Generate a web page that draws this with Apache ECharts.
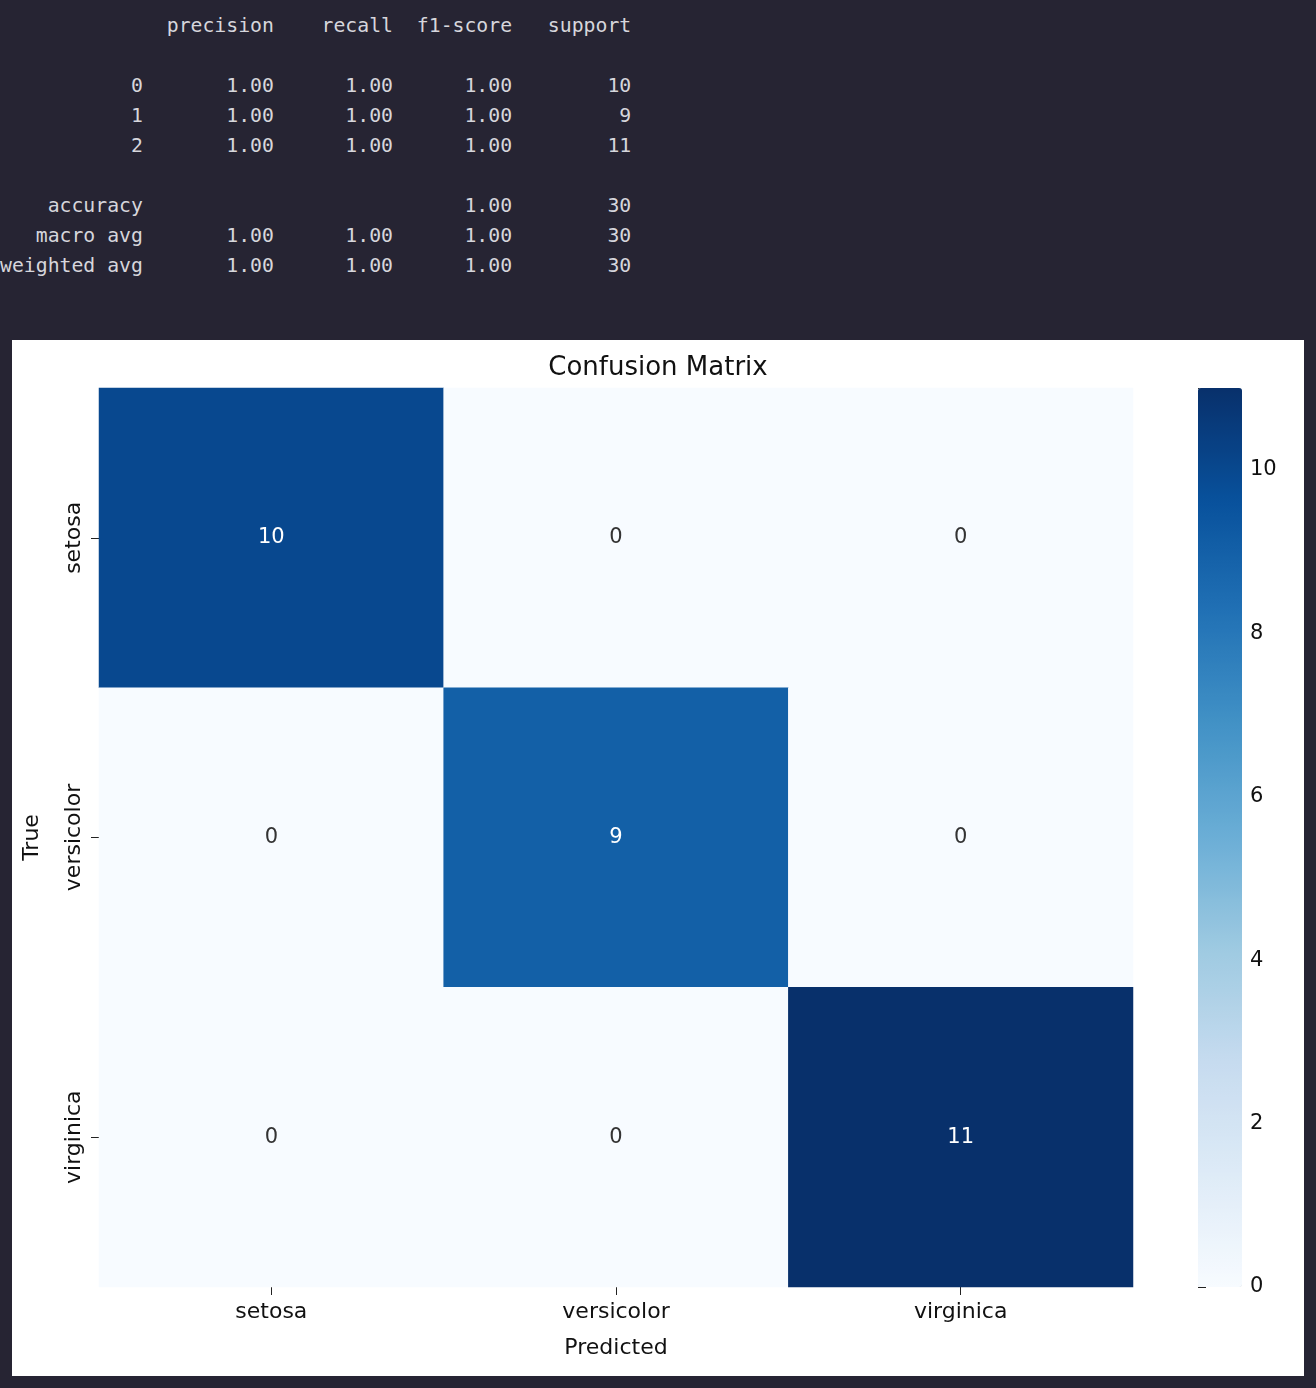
<!DOCTYPE html>
<html>
<head>
<meta charset="utf-8">
<title>Confusion Matrix</title>
<script src="https://cdn.jsdelivr.net/npm/echarts@6/dist/echarts.min.js"></script>
<style>
  body { margin: 0; background: #262433; width: 1316px; height: 1388px; overflow: hidden; }
  #report { position: absolute; left: 0; top: 11px; margin: 0; color: #d6d6dc;
            font-family: 'DejaVu Sans Mono', monospace; font-size: 19.8px; line-height: 30px; }
  #main { position: absolute; left: 12px; top: 340px; width: 1292px; height: 1036px; background: #fff; }
</style>
</head>
<body>
<pre id="report"></pre>
<div id="main"></div>
<script>
var reportLines = [
  '              precision    recall  f1-score   support',
  '',
  '           0       1.00      1.00      1.00        10',
  '           1       1.00      1.00      1.00         9',
  '           2       1.00      1.00      1.00        11',
  '',
  '    accuracy                           1.00        30',
  '   macro avg       1.00      1.00      1.00        30',
  'weighted avg       1.00      1.00      1.00        30'
];
var classes = ['setosa', 'versicolor', 'virginica'];
// matrix[row = true][col = predicted]
var matrix = [
  [10, 0, 0],
  [0, 9, 0],
  [0, 0, 11]
];
var colorTicks = [0, 2, 4, 6, 8, 10];
var blues = ['#f7fbff', '#deebf7', '#c6dbef', '#9ecae1', '#6baed6', '#4292c6', '#2171b5', '#08519c', '#08306b'];

document.getElementById('report').textContent = reportLines.join('\n');

var data = [];
for (var r = 0; r < matrix.length; r++) {
  for (var c = 0; c < matrix[r].length; c++) {
    data.push([c, r, matrix[r][c]]);
  }
}

var font = 'DejaVu Sans';
var chart = echarts.init(document.getElementById('main'));
chart.setOption({
  backgroundColor: '#fff',
  animation: false,
  title: { text: 'Confusion Matrix', left: 'center', top: 10,
           textStyle: { fontFamily: font, fontSize: 26, fontWeight: 'normal', color: '#111' } },
  grid: [
    { left: 87, top: 48, width: 1034, height: 899 },
    { left: 1186, top: 48, width: 44, height: 899 }
  ],
  xAxis: [
    { type: 'category', data: classes, gridIndex: 0, position: 'bottom',
      name: 'Predicted', nameLocation: 'middle', nameGap: 50,
      nameTextStyle: { fontFamily: font, fontSize: 22, color: '#111' },
      axisLine: { show: false }, splitLine: { show: false },
      axisTick: { show: true, alignWithLabel: true, length: 8, lineStyle: { color: '#222' } },
      axisLabel: { fontFamily: font, fontSize: 22, color: '#111', margin: 14 } },
    { type: 'value', gridIndex: 1, show: false, min: 0, max: 1 }
  ],
  yAxis: [
    { type: 'category', data: classes, gridIndex: 0, inverse: true,
      name: 'True', nameLocation: 'middle', nameGap: 56, nameRotate: 90,
      nameTextStyle: { fontFamily: font, fontSize: 22, color: '#111' },
      axisLine: { show: false }, splitLine: { show: false },
      axisTick: { show: true, alignWithLabel: true, length: 8, lineStyle: { color: '#222' } },
      axisLabel: { fontFamily: font, fontSize: 22, color: '#111', rotate: 90, margin: 14 } },
    { type: 'value', gridIndex: 1, position: 'right', min: 0, max: 11, interval: 2,
      axisLine: { show: false }, splitLine: { show: false },
      axisTick: { show: true, length: 8, lineStyle: { color: '#222' } },
      axisLabel: { fontFamily: font, fontSize: 21, color: '#111', margin: 8,
                   formatter: function (v) { return colorTicks.indexOf(v) >= 0 ? v : ''; } } }
  ],
  visualMap: {
    type: 'continuous', min: 0, max: 11, seriesIndex: 0, calculable: false,
    orient: 'vertical', left: 1186, top: 48, itemWidth: 44, itemHeight: 899,
    padding: 0, text: null, showLabel: false,
    inRange: { color: blues }
  },
  series: [{
    type: 'heatmap', xAxisIndex: 0, yAxisIndex: 0, data: data,
    label: { show: true, fontFamily: font, fontSize: 21,
             color: '#333',
             formatter: function (p) { return p.value[2]; },
             rich: {} },
    itemStyle: { borderWidth: 0 }
  }]
});
// white labels on dark cells
chart.setOption({
  series: [{
    data: data.map(function (d) {
      return { value: d, label: { color: d[2] > 5 ? '#fff' : '#333' } };
    })
  }]
});
</script>
</body>
</html>
